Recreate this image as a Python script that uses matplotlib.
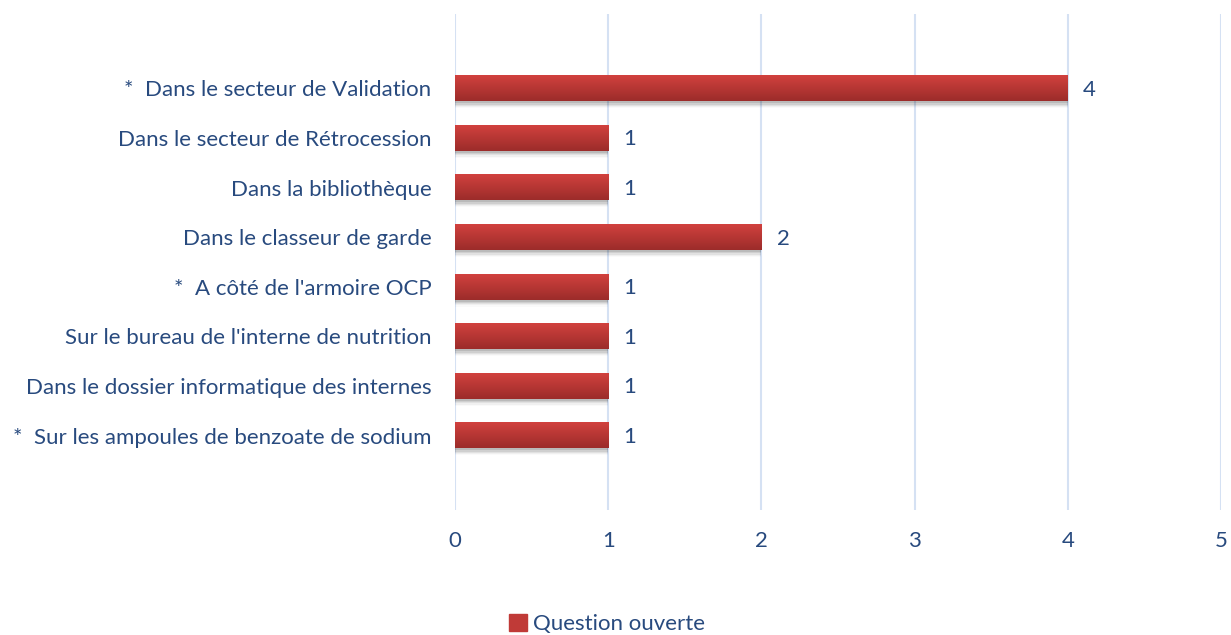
import numpy as np
import matplotlib.pyplot as plt
from matplotlib.patches import Rectangle
from matplotlib.colors import LinearSegmentedColormap

categories = [
    "*  Dans le secteur de Validation",
    "Dans le secteur de Rétrocession",
    "Dans la bibliothèque",
    "Dans le classeur de garde",
    "*  A côté de l'armoire OCP",
    "Sur le bureau de l'interne de nutrition",
    "Dans le dossier informatique des internes",
    "*  Sur les ampoules de benzoate de sodium",
]
values = [4, 1, 1, 2, 1, 1, 1, 1]
series_name = "Question ouverte"
x_ticks = [0, 1, 2, 3, 4, 5]

TEXT = '#284a7e'
GRID = '#d5e1f3'
TOP, BOTTOM = '#d1413e', '#9c2c2a'
FS = 16

plt.rcParams['font.family'] = ['Lato', 'DejaVu Sans']

fig = plt.figure(figsize=(12.31, 6.35), dpi=100)
ax = fig.add_axes([455 / 1231, 1 - 510 / 635, (1221 - 455) / 1231, (510 - 14) / 635])

n = len(categories)
ypos = np.arange(n)[::-1]  # first category on top
h = 0.52
grad = LinearSegmentedColormap.from_list('bar', [BOTTOM, TOP])
gimg = np.linspace(0, 1, 64).reshape(-1, 1)

for y, v in zip(ypos, values):
    # soft shadow below each bar
    for k, a in enumerate([0.10, 0.08, 0.06, 0.04, 0.02]):
        off = 0.04 + 0.025 * k
        ax.add_patch(Rectangle((0, y - h / 2 - off), v, h, color='#000000',
                               alpha=a, lw=0, zorder=2))
    ax.imshow(gimg, cmap=grad, aspect='auto', origin='lower',
              extent=(0, v, y - h / 2, y + h / 2), zorder=3)
    ax.text(v + 0.1, y - 0.03, str(v), va='center', ha='left', fontsize=FS, color=TEXT, zorder=4)

ax.set_xlim(0, 5)
ax.set_ylim(-1.5, n - 1 + 1.5)
ax.set_xticks(x_ticks)
ax.set_yticks(ypos)
ax.set_yticklabels(categories)
ax.tick_params(axis='x', length=0, pad=15, labelsize=FS, labelcolor=TEXT)
ax.tick_params(axis='y', length=0, pad=17, labelsize=FS, labelcolor=TEXT)
ax.grid(axis='x', color=GRID, lw=1.5, zorder=0)
ax.set_axisbelow(True)
for s in ax.spines.values():
    s.set_visible(False)

# legend
leg_h = Rectangle((0, 0), 1, 1, color='#c03a37')
fig.legend([leg_h], [series_name], loc='center', bbox_to_anchor=(607 / 1231, 1 - 624 / 635),
           frameon=False, fontsize=FS, labelcolor=TEXT, handlelength=0.8, handleheight=0.8,
           handletextpad=0.25)

fig.savefig('out.png', dpi=100)
